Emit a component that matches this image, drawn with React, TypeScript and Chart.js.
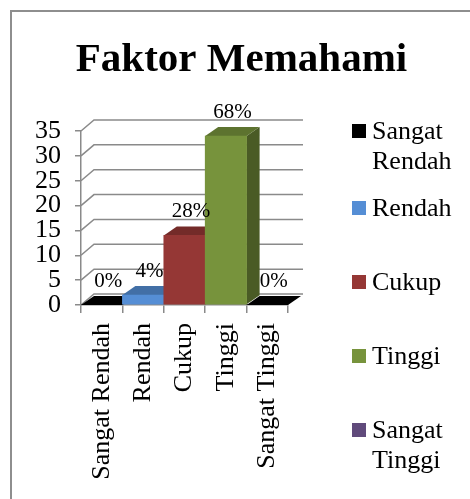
import React, { useEffect, useRef } from "react";
import { Chart, registerables } from "chart.js";

Chart.register(...registerables);

const titleText = "Faktor Memahami";
const categories = ["Sangat Rendah", "Rendah", "Cukup", "Tinggi", "Sangat Tinggi"];
const values = [0, 2, 14, 34, 0];
const barColors = ["#000000", "#558ED5", "#953735", "#77933C", "#000000"];
const legendColors = ["#000000", "#558ED5", "#953735", "#77933C", "#604A7B"];
const yMin = 0;
const yMax = 35;
const yStep = 5;

const FONT = "'Liberation Serif', 'Times New Roman', serif";
const GRID = "#8a8a8a";
const WALL_DX = 13;
const WALL_DY = -11;
const BAR_DX = 13;
const BAR_DY = -9;

function shade(hex: string, f: number): string {
  const n = parseInt(hex.slice(1), 16);
  const r = Math.round(((n >> 16) & 255) * f);
  const g = Math.round(((n >> 8) & 255) * f);
  const b = Math.round((n & 255) * f);
  return `rgb(${r},${g},${b})`;
}

function poly(ctx: CanvasRenderingContext2D, pts: number[][], fill: string) {
  ctx.beginPath();
  ctx.moveTo(pts[0][0], pts[0][1]);
  for (let i = 1; i < pts.length; i++) ctx.lineTo(pts[i][0], pts[i][1]);
  ctx.closePath();
  ctx.fillStyle = fill;
  ctx.fill();
}

const threeD = {
  id: "threeD",
  beforeDatasetsDraw(chart: any) {
    const { ctx, chartArea } = chart;
    const y = chart.scales.y;
    ctx.save();
    // back wall gridlines
    ctx.strokeStyle = GRID;
    ctx.lineWidth = 1.5;
    y.ticks.forEach((t: any) => {
      const py = y.getPixelForValue(t.value);
      ctx.beginPath();
      ctx.moveTo(chartArea.left, py);
      ctx.lineTo(chartArea.left + WALL_DX, py + WALL_DY);
      ctx.lineTo(chartArea.right + WALL_DX + 2, py + WALL_DY);
      ctx.stroke();
    });
    // side and top faces
    const meta = chart.getDatasetMeta(0);
    meta.data.forEach((el: any, i: number) => {
      const p = el.getProps(["x", "y", "base", "width"], true);
      const left = p.x - p.width / 2;
      const right = p.x + p.width / 2;
      const top = p.y;
      const base = p.base;
      const c = barColors[i];
      if (base - top > 0.5) {
        poly(ctx, [[right, top], [right + BAR_DX, top + BAR_DY], [right + BAR_DX, base + BAR_DY], [right, base]], shade(c, 0.62));
      }
      poly(ctx, [[left, top], [right, top], [right + BAR_DX, top + BAR_DY], [left + BAR_DX, top + BAR_DY]], shade(c, 0.78));
    });
    ctx.restore();
  },
  afterDatasetsDraw(chart: any) {
    const { ctx } = chart;
    ctx.save();
    // data labels
    const total = values.reduce((a, b) => a + b, 0);
    const meta = chart.getDatasetMeta(0);
    ctx.fillStyle = "#000";
    ctx.font = `21px ${FONT}`;
    ctx.textAlign = "center";
    ctx.textBaseline = "bottom";
    meta.data.forEach((el: any, i: number) => {
      const p = el.getProps(["x", "y"], true);
      const pct = Math.round((values[i] / total) * 100) + "%";
      ctx.fillText(pct, p.x + BAR_DX / 2, p.y + BAR_DY - 4);
    });
    // title
    ctx.font = `bold 41px ${FONT}`;
    ctx.textBaseline = "alphabetic";
    ctx.fillText(titleText, 241.5, 71);
    // legend
    ctx.font = `26px ${FONT}`;
    ctx.textAlign = "left";
    const sqX = 352;
    const txX = 372;
    const maxW = 96;
    const lineH = 30;
    let yc = 131;
    categories.forEach((cat, i) => {
      if (i === 1) yc = 208;
      else if (i > 1) yc += 74;
      ctx.fillStyle = legendColors[i];
      ctx.fillRect(sqX, yc - 7, 14, 14);
      const words = cat.split(" ");
      const lines: string[] = [];
      let cur = "";
      words.forEach((w) => {
        const test = cur ? cur + " " + w : w;
        if (cur && ctx.measureText(test).width > maxW) {
          lines.push(cur);
          cur = w;
        } else cur = test;
      });
      if (cur) lines.push(cur);
      ctx.fillStyle = "#000";
      lines.forEach((ln, k) => ctx.fillText(ln, txX, yc + 8 + k * lineH));
    });
    ctx.restore();
  },
};

export default function App() {
  const ref = useRef<HTMLCanvasElement>(null);
  useEffect(() => {
    if (!ref.current) return;
    const chart = new Chart(ref.current, {
      type: "bar",
      data: {
        labels: categories,
        datasets: [
          {
            data: values,
            backgroundColor: barColors,
            borderWidth: 0,
            categoryPercentage: 1,
            barPercentage: 1,
          },
        ],
      },
      options: {
        responsive: false,
        animation: false,
        events: [],
        layout: { padding: { left: 0, top: 131, right: 182, bottom: 0 } },
        plugins: {
          legend: { display: false },
          title: { display: false },
          tooltip: { enabled: false },
        },
        scales: {
          x: {
            offset: true,
            grid: { offset: true, drawOnChartArea: false, tickLength: 8, color: GRID, lineWidth: 1.5 },
            border: { display: true, color: GRID, width: 1.5 },
            ticks: {
              autoSkip: false,
              minRotation: 90,
              maxRotation: 90,
              padding: 10,
              color: "#000",
              font: { family: FONT, size: 26 },
            },
            afterFit: (s: any) => {
              s.height = 194;
            },
          },
          y: {
            min: yMin,
            max: yMax,
            grid: { drawOnChartArea: false, tickLength: 6, color: GRID, lineWidth: 1.5 },
            border: { display: true, color: GRID, width: 1.5 },
            ticks: {
              stepSize: yStep,
              autoSkip: false,
              padding: 14,
              color: "#000",
              font: { family: FONT, size: 26, lineHeight: 1 },
            },
            afterFit: (s: any) => {
              s.width = 81;
            },
          },
        },
      },
      plugins: [threeD],
    });
    return () => chart.destroy();
  }, []);

  return (
    <div style={{ position: "fixed", left: 0, top: 0, width: 470, height: 499, overflow: "hidden", background: "#fff" }}>
      <div
        style={{
          position: "absolute",
          left: 10,
          top: 10,
          width: 600,
          height: 600,
          border: "2px solid #8e8e8e",
        }}
      />
      <canvas ref={ref} width={470} height={499} style={{ position: "absolute", left: 0, top: 0 }} />
    </div>
  );
}
